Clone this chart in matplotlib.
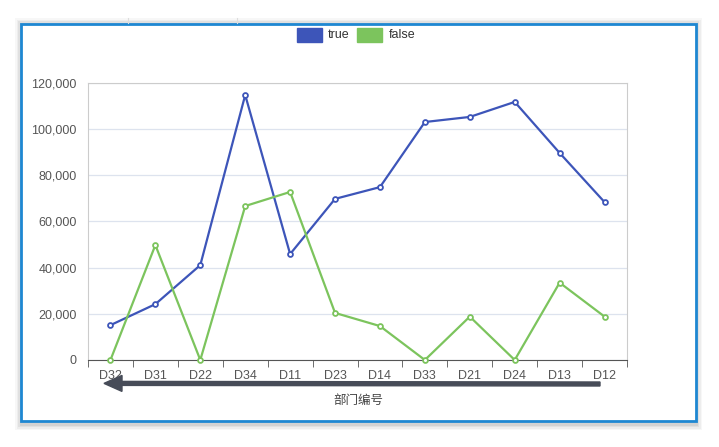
import matplotlib.pyplot as plt
from matplotlib.patches import Rectangle, FancyArrow
import numpy as np

plt.rcParams['font.family'] = ['Liberation Sans', 'Noto Sans CJK SC', 'DejaVu Sans']

depts = ['D32', 'D31', 'D22', 'D34', 'D11', 'D23', 'D14', 'D33', 'D21', 'D24', 'D13', 'D12']
true_vals = [15100, 24200, 41100, 114800, 45900, 69800, 74900, 103100, 105300, 111800, 89700, 68400]
false_vals = [0, 49800, 0, 66700, 72800, 20400, 14700, 0, 18800, 0, 33500, 18800]
yticks = [0, 20000, 40000, 60000, 80000, 100000, 120000]

W, H = 719, 447
fig = plt.figure(figsize=(W / 100, H / 100), dpi=100)

# card shadow + blue frame
for i, a in enumerate([0.03, 0.04, 0.05, 0.06]):
    d = 6 - i * 1.5
    fig.patches.append(Rectangle(((21 - d) / W, (447 - 424 - d) / H), (675 + 2 * d) / W, (400 + 2 * d) / H,
                                 transform=fig.transFigure, color='black', alpha=a, lw=0, zorder=0))
fig.patches.append(Rectangle((21 / W, (447 - 421) / H), 675 / W, 397 / H, transform=fig.transFigure,
                             facecolor='white', edgecolor='#1e87d2', lw=2, zorder=1))
fig.add_artist(plt.Line2D([128 / W, 128 / W], [(447 - 18) / H, (447 - 23) / H], color='#dddddd', lw=0.8))
fig.add_artist(plt.Line2D([237 / W, 237 / W], [(447 - 18) / H, (447 - 23) / H], color='#dddddd', lw=0.8))

ax = fig.add_axes([88 / W, (447 - 360) / H, 539 / W, 277 / H])
ax.set_zorder(2)
x = np.arange(len(depts)) + 0.5
blue = '#3d55b9'
green = '#7cc45d'
ax.plot(x, true_vals, color=blue, lw=1.6, marker='o', ms=3.5, mfc='white', mec=blue, mew=1.3, zorder=3, clip_on=False)
ax.plot(x, false_vals, color=green, lw=1.6, marker='o', ms=3.5, mfc='white', mec=green, mew=1.3, zorder=3, clip_on=False)

ax.set_xlim(0, len(depts))
ax.set_ylim(0, 120000)
ax.set_yticks(yticks)
ax.set_yticklabels([f'{v:,}' for v in yticks], color='#555555', fontsize=9)
ax.set_xticks(x)
ax.set_xticklabels(depts, color='#555555', fontsize=9)
ax.tick_params(axis='x', which='major', length=0, pad=7)
ax.set_xticks(np.arange(len(depts) + 1), minor=True)
ax.tick_params(axis='x', which='minor', length=5, color='#555555', direction='out')
ax.tick_params(axis='y', length=0, pad=8)
ax.grid(axis='y', color='#dde3ee', lw=0.9)
ax.set_axisbelow(True)
for s in ['top', 'right', 'left']:
    ax.spines[s].set_color('#cccccc')
ax.spines['bottom'].set_color('#555555')

# legend
fig.patches.append(Rectangle((297 / W, (447 - 42) / H), 25 / W, 14 / H, transform=fig.transFigure, color=blue, zorder=3))
fig.patches.append(Rectangle((357 / W, (447 - 42) / H), 25 / W, 14 / H, transform=fig.transFigure, color=green, zorder=3))
fig.text(328 / W, (447 - 35) / H, 'true', fontsize=9, va='center', color='#333333')
fig.text(389 / W, (447 - 35) / H, 'false', fontsize=9, va='center', color='#333333')

# direction arrow
fig.add_artist(FancyArrow(600 / W, (447 - 384) / H, -478 / W, 0.6 / H, width=4 / H, head_width=16 / H,
                          head_length=18 / W, length_includes_head=False, transform=fig.transFigure,
                          color='#474c58', zorder=4))
fig.text(358 / W, (447 - 401) / H, '部门编号', fontsize=9, ha='center', va='center', color='#444444')

fig.savefig('out.png', dpi=100)
